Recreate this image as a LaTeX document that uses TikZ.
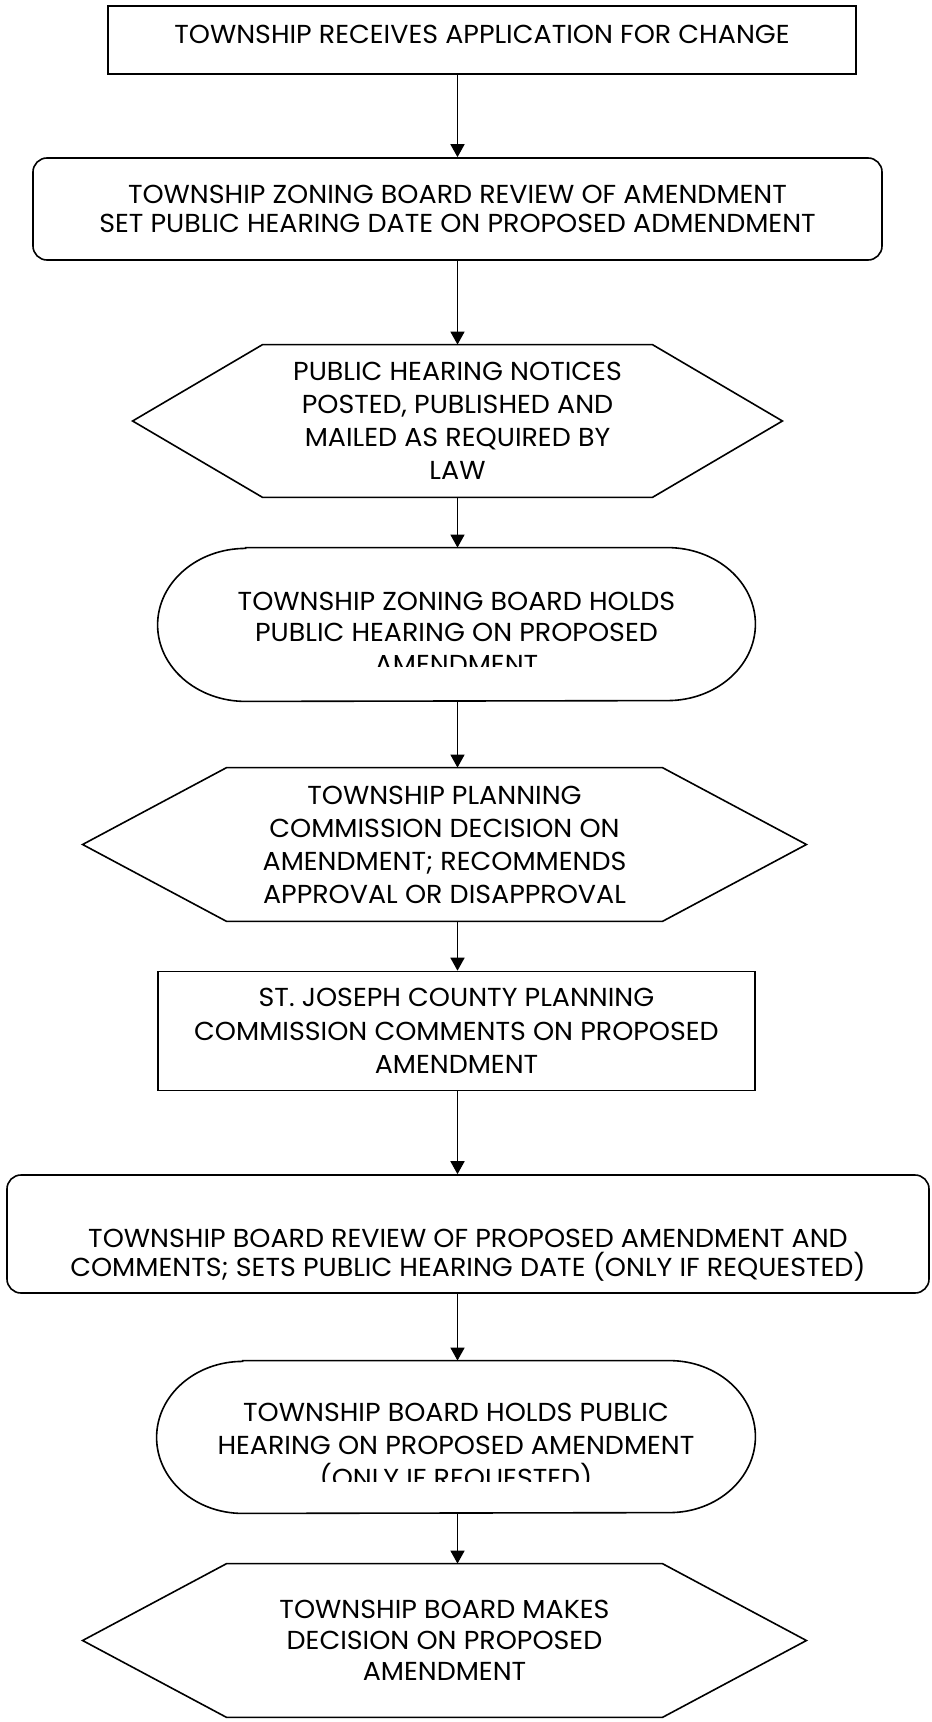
\documentclass[tikz,border=0pt]{standalone}
\usepackage{fontspec}
\setmainfont{Poppins}[FakeStretch=1.035]
\usetikzlibrary{arrows.meta}

\newcommand{\flowfont}{\fontsize{13}{16.5}\selectfont}

\tikzset{
    base/.style={align=center, font=\flowfont, inner sep=0pt, rectangle},
    plainbox/.style={base, draw, line width=.8pt},
    roundbox/.style={base, draw, rounded corners=7pt, line width=.8pt},
    hexbox/.style={base},
    pillbox/.style={base},
    tight/.style={font=\fontsize{13}{14.2}\selectfont},
    loose/.style={font=\fontsize{13}{15.8}\selectfont},
    outline/.style={line width=.8pt},
    arr/.style={-{Triangle[length=6.5pt,width=7pt]}, line width=.8pt},
}

\begin{document}
\begin{tikzpicture}[x=0.5pt, y=-0.5pt]

    \useasboundingbox (0,0) rectangle (931,1722);

    \node[plainbox, minimum width=374pt, minimum height=34pt] (recv) at (482,40) {};
    \node[base] (recvtext) at (482,34) {TOWNSHIP RECEIVES APPLICATION FOR CHANGE};

    \node[roundbox, tight, minimum width=424.5pt, minimum height=51pt] (zbreview) at (457.5,209)
        {TOWNSHIP ZONING BOARD REVIEW OF AMENDMENT\\SET PUBLIC HEARING DATE ON PROPOSED ADMENDMENT};

    \node[hexbox, minimum width=324.5pt, minimum height=76pt] (notices) at (457.5,421)
        {PUBLIC HEARING NOTICES\\POSTED, PUBLISHED AND\\MAILED AS REQUIRED BY\\LAW};
    \draw[outline] (notices.west) -- ([xshift=65pt]notices.north west) -- ([xshift=-65pt]notices.north east)
        -- (notices.east) -- ([xshift=-65pt]notices.south east) -- ([xshift=65pt]notices.south west) -- cycle;

    \node[pillbox, minimum width=298.5pt, minimum height=76.5pt] (zbhear) at (456.5,624.5) {};
    \draw[outline] ([xshift=44pt]zbhear.north west) -- ([xshift=-44pt]zbhear.north east)
        arc[start angle=90, end angle=-90, x radius=44pt, y radius=38.25pt]
        -- ([xshift=44pt]zbhear.south west)
        arc[start angle=270, end angle=90, x radius=44pt, y radius=38.25pt] -- cycle;
    \begin{scope}
        \clip (zbhear.north west) rectangle (zbhear.east |- 0,666);
        \node[base, loose] (zbheartext) at (456.5,632.5)
            {TOWNSHIP ZONING BOARD HOLDS\\PUBLIC HEARING ON PROPOSED\\AMENDMENT};
    \end{scope}

    \node[hexbox, minimum width=361.5pt, minimum height=76.5pt] (plan) at (444.5,844.5)
        {TOWNSHIP PLANNING\\COMMISSION DECISION ON\\AMENDMENT; RECOMMENDS\\APPROVAL OR DISAPPROVAL};
    \draw[outline] (plan.west) -- ([xshift=72pt]plan.north west) -- ([xshift=-72pt]plan.north east)
        -- (plan.east) -- ([xshift=-72pt]plan.south east) -- ([xshift=72pt]plan.south west) -- cycle;

    \node[plainbox, font=\fontsize{13}{16.7}\selectfont, minimum width=298.5pt, minimum height=59.5pt] (county) at (456.5,1031)
        {ST. JOSEPH COUNTY PLANNING\\COMMISSION COMMENTS ON PROPOSED\\AMENDMENT};

    \node[roundbox, minimum width=461pt, minimum height=59pt] (tbreview) at (468,1234) {};
    \node[base, font=\fontsize{13}{14.5}\selectfont] (tbreviewtext) at (468,1255.5)
        {TOWNSHIP BOARD REVIEW OF PROPOSED AMENDMENT AND\\COMMENTS; SETS PUBLIC HEARING DATE (ONLY IF REQUESTED)};

    \node[pillbox, minimum width=299pt, minimum height=76pt] (tbhear) at (456,1437) {};
    \draw[outline] ([xshift=43pt]tbhear.north west) -- ([xshift=-43pt]tbhear.north east)
        arc[start angle=90, end angle=-90, x radius=43pt, y radius=38pt]
        -- ([xshift=43pt]tbhear.south west)
        arc[start angle=270, end angle=90, x radius=43pt, y radius=38pt] -- cycle;
    \begin{scope}
        \clip (tbhear.north west) rectangle (tbhear.east |- 0,1481);
        \node[base] (tbheartext) at (456,1447.5)
            {TOWNSHIP BOARD HOLDS PUBLIC\\HEARING ON PROPOSED AMENDMENT\\(ONLY IF REQUESTED)};
    \end{scope}

    \node[hexbox, font=\fontsize{13}{15.5}\selectfont, minimum width=361.5pt, minimum height=76.5pt] (decide) at (444.5,1640.5)
        {TOWNSHIP BOARD MAKES\\DECISION ON PROPOSED\\AMENDMENT};
    \draw[outline] (decide.west) -- ([xshift=72pt]decide.north west) -- ([xshift=-72pt]decide.north east)
        -- (decide.east) -- ([xshift=-72pt]decide.south east) -- ([xshift=72pt]decide.south west) -- cycle;

    % connectors
    \draw[arr] (zbreview.north |- recv.south) -- (zbreview.north);
    \draw[arr] (zbreview.south) -- (notices.north);
    \draw[arr] (notices.south) -- (notices.south |- zbhear.north);
    \draw[arr] (notices.south |- zbhear.south) -- (notices.south |- plan.north);
    \draw[arr] (notices.south |- plan.south) -- (notices.south |- county.north);
    \draw[arr] (notices.south |- county.south) -- (notices.south |- tbreview.north);
    \draw[arr] (notices.south |- tbreview.south) -- (notices.south |- tbhear.north);
    \draw[arr] (notices.south |- tbhear.south) -- (notices.south |- decide.north);

\end{tikzpicture}
\end{document}
